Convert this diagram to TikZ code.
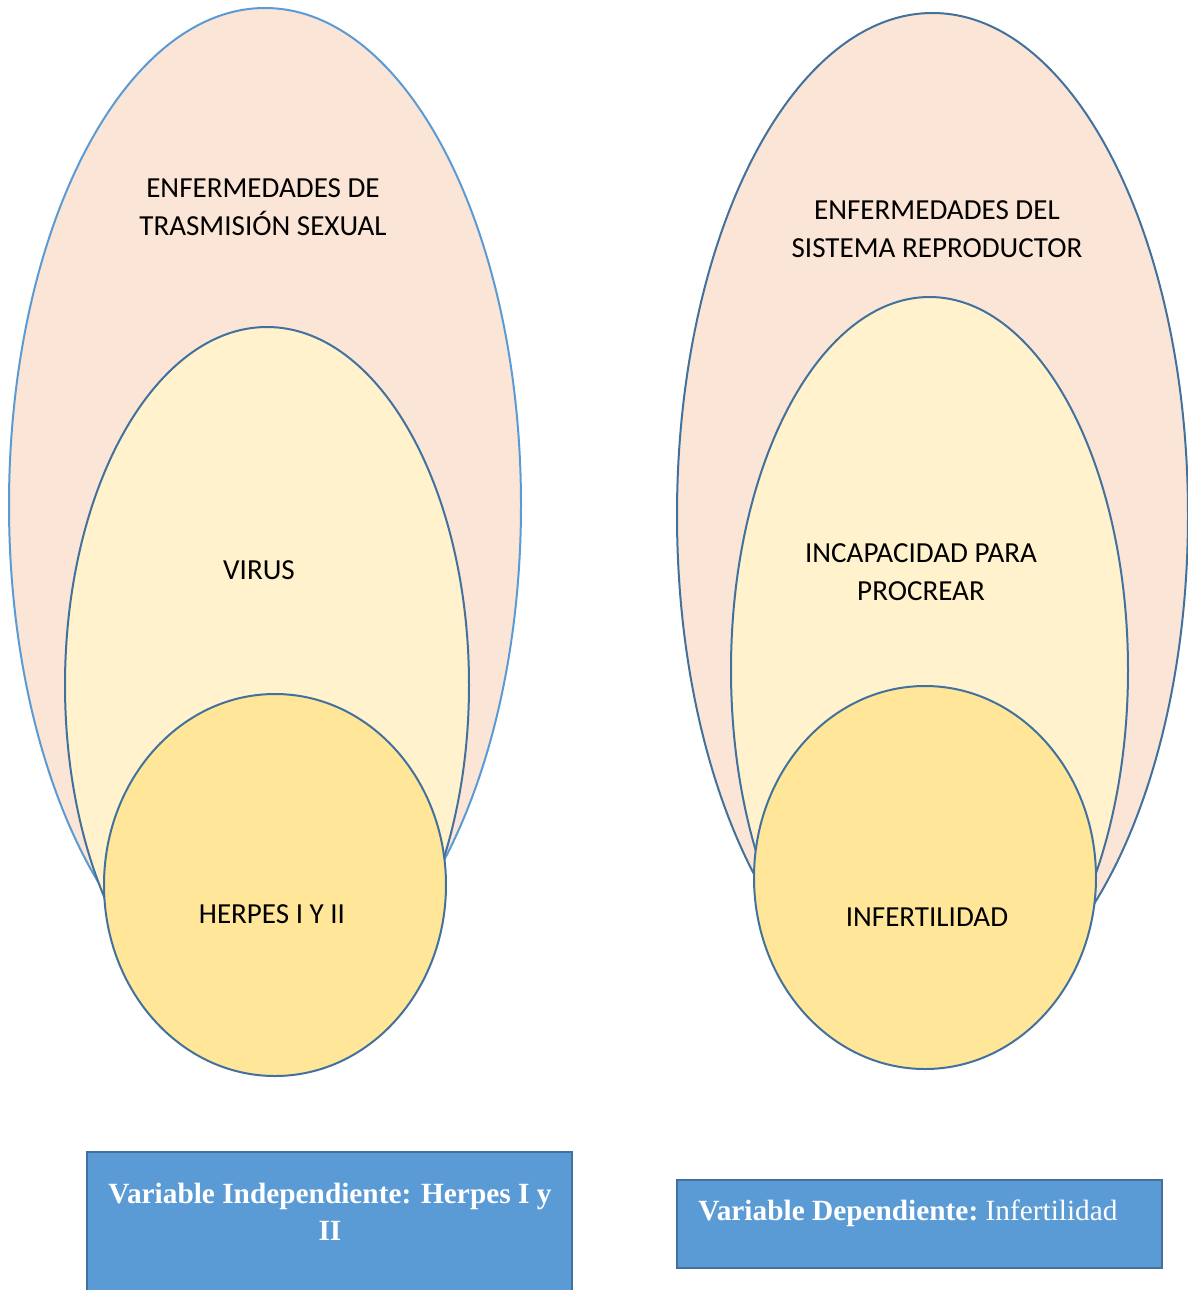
\documentclass[tikz,border=0pt]{standalone}
\usepackage{fontspec}
\setmainfont{Carlito}
\newfontfamily\serifbox{Liberation Serif}
\usetikzlibrary{shapes.geometric}
\definecolor{peach}{HTML}{FBE5D6}
\definecolor{cream}{HTML}{FFF2CC}
\definecolor{gold}{HTML}{FFE699}
\definecolor{lineblue}{HTML}{41719C}
\definecolor{lightblue}{HTML}{5B9BD5}
\definecolor{boxblue}{HTML}{5B9BD5}
\tikzset{
  oval/.style={ellipse, draw=lineblue, line width=1.5pt, inner sep=0pt},
  lbl/.style={align=center, font=\fontsize{21.8}{28.5}\selectfont, text=black},
  varbox/.style={draw=lineblue, fill=boxblue, line width=1.5pt},
  vartext/.style={text=white, font=\serifbox\fontsize{22}{28}\selectfont}
}
\begin{document}
\begin{tikzpicture}[x=0.75pt,y=-0.75pt]
\useasboundingbox (0,0) rectangle (1188,1290);
% left
\node[oval, draw=lightblue, fill=peach, minimum width=384pt, minimum height=745.5pt] (lo) at (265,505) {};
\node[oval, fill=cream, minimum width=303pt, minimum height=537pt] (lm) at (267,685) {};
\node[oval, fill=gold, minimum width=256.5pt, minimum height=286.5pt] (li) at (275,885) {};
\node[lbl] (lot) at (263,207) {ENFERMEDADES DE\\TRASMISIÓN SEXUAL};
\node[lbl] (lmt) at (259,570) {VIRUS};
\node[lbl] (lit) at (272,914) {HERPES I Y II};
% right
\node[oval, fill=peach, minimum width=383.25pt, minimum height=753pt] (ro) at (932.5,515) {};
\node[oval, fill=cream, minimum width=297.75pt, minimum height=559.5pt] (rm) at (929.5,670) {};
\node[oval, fill=gold, minimum width=256.5pt, minimum height=287.25pt] (ri) at (925,877.5) {};
\node[lbl] (rot) at (937,229) {ENFERMEDADES DEL\\SISTEMA REPRODUCTOR};
\node[lbl] (rmt) at (921,572) {INCAPACIDAD PARA\\PROCREAR};
\node[lbl] (rit) at (927,917) {INFERTILIDAD};
% boxes
\draw[varbox] (87,1152) rectangle (572,1295);
\node[vartext, align=center, anchor=base] (lb1) at (330,1203) {\bfseries Variable Independiente: Herpes I y};
\node[vartext, anchor=base] (lb2) at (330,1240) {\bfseries II};
\draw[varbox] (677,1180) rectangle (1162,1268);
\node[vartext, anchor=base west, inner sep=0pt] (rb) at (698,1220) {\bfseries Variable Dependiente:\mdseries\ Infertilidad};
\end{tikzpicture}
\end{document}
